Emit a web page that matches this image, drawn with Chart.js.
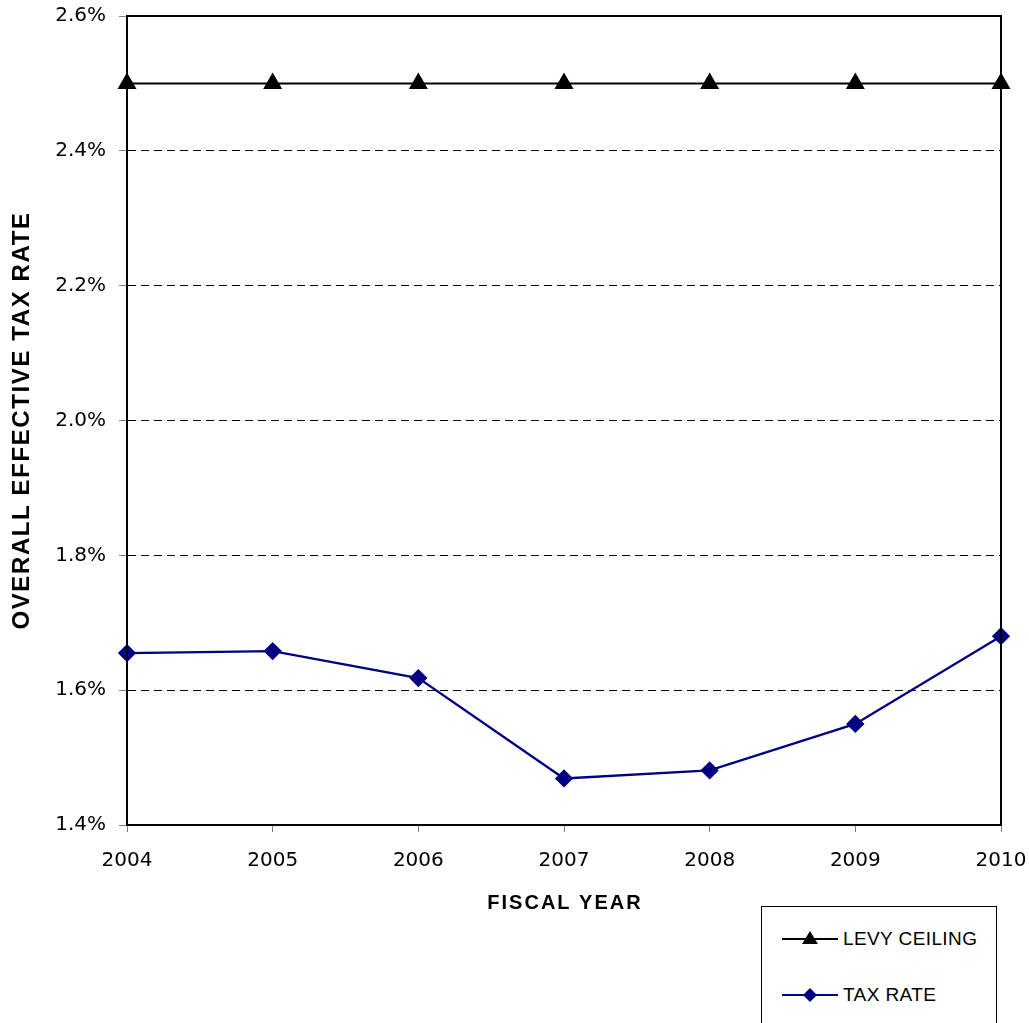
<!DOCTYPE html>
<html>
<head>
<meta charset="utf-8">
<script src="https://cdn.jsdelivr.net/npm/chart.js@4.4.1/dist/chart.umd.min.js"></script>
<style>
  html, body { margin: 0; padding: 0; background: #fff; }
  #wrap { position: relative; width: 1029px; height: 1023px; }
  #grafico { position: absolute; left: 0; top: 0; }
  #leyenda {
    position: absolute; left: 761px; top: 906px; width: 236px; height: 130px;
    border: 1px solid #000; background: #fff; box-sizing: border-box;
    font-family: "Liberation Sans", Arial, sans-serif; font-size: 19px; color: #000;
    letter-spacing: 0.4px;
  }
  .fila { position: absolute; left: 20px; display: flex; align-items: center; }
  .fila svg { margin-right: 5px; }
</style>
</head>
<body>
<div id="wrap">
  <canvas id="grafico" width="1029" height="1023"></canvas>
  <div id="leyenda">
    <div class="fila" style="top: 20px;">
      <svg width="56" height="24"><line x1="0" y1="12" x2="56" y2="12" stroke="#000" stroke-width="2"/><polygon points="28,4 36,17 20,17" fill="#000"/></svg>
      <span>LEVY CEILING</span>
    </div>
    <div class="fila" style="top: 76px;">
      <svg width="56" height="24"><line x1="0" y1="12" x2="56" y2="12" stroke="#000080" stroke-width="2"/><polygon points="28,5 35,12 28,19 21,12" fill="#000080"/></svg>
      <span>TAX RATE</span>
    </div>
  </div>
</div>
<script>
// Años fiscales y tasas (%)
const anios = ['2004', '2005', '2006', '2007', '2008', '2009', '2010'];
const techoImpositivo = [2.5, 2.5, 2.5, 2.5, 2.5, 2.5, 2.5];
const tasaEfectiva = [1.655, 1.658, 1.618, 1.469, 1.481, 1.550, 1.680];
const ticksY = [1.4, 1.6, 1.8, 2.0, 2.2, 2.4, 2.6];

const tituloX = 'FISCAL YEAR';
const tituloY = 'OVERALL EFFECTIVE TAX RATE';

const fuenteTicks = { family: 'DejaVu Sans', size: 20 };

// Marco negro alrededor del área del gráfico y títulos de ejes espaciados
const marcoYTitulos = {
    id: 'marcoYTitulos',
    afterDraw(chart) {
        const { ctx, chartArea: a } = chart;
        ctx.save();
        ctx.strokeStyle = '#000';
        ctx.lineWidth = 2;
        ctx.strokeRect(a.left, a.top, a.right - a.left, a.bottom - a.top);

        ctx.fillStyle = '#000';
        ctx.textAlign = 'center';
        ctx.textBaseline = 'middle';

        // Título del eje X
        ctx.font = 'bold 20px "Liberation Sans"';
        ctx.letterSpacing = '2px';
        ctx.fillText(tituloX, (a.left + a.right) / 2 + 1, 903);

        // Título del eje Y (vertical)
        ctx.font = 'bold 24px "Liberation Sans"';
        ctx.letterSpacing = '1.6px';
        ctx.translate(22, (a.top + a.bottom) / 2);
        ctx.rotate(-Math.PI / 2);
        ctx.fillText(tituloY, 0, 0);
        ctx.restore();
    }
};

new Chart(document.getElementById('grafico'), {
    type: 'line',
    data: {
        labels: anios,
        datasets: [{
            label: 'LEVY CEILING',
            data: techoImpositivo,
            borderColor: '#000',
            backgroundColor: '#000',
            borderWidth: 2,
            pointStyle: 'triangle',
            pointRadius: 9,
            pointHoverRadius: 9,
            tension: 0
        }, {
            label: 'TAX RATE',
            data: tasaEfectiva,
            borderColor: '#000080',
            backgroundColor: '#000080',
            borderWidth: 2.3,
            pointStyle: 'rectRot',
            pointRadius: 7.5,
            pointHoverRadius: 7.5,
            tension: 0
        }]
    },
    options: {
        responsive: false,
        animation: false,
        events: [],
        layout: { padding: { left: 0, right: 28, top: 16, bottom: 0 } },
        plugins: {
            legend: { display: false },
            tooltip: { enabled: false }
        },
        scales: {
            x: {
                offset: false,
                afterFit(scale) {
                    scale.height = 198;
                    scale.paddingLeft = 0;
                    scale.paddingRight = 0;
                },
                grid: {
                    display: true,
                    drawOnChartArea: false,
                    drawTicks: true,
                    tickLength: 7,
                    color: '#808080'
                },
                border: { display: true, color: '#000', width: 2 },
                ticks: { color: '#000', font: fuenteTicks, padding: 17, maxRotation: 0 }
            },
            y: {
                min: 1.4,
                max: 2.6,
                afterBuildTicks(scale) {
                    scale.ticks = ticksY.map(v => ({ value: v }));
                },
                afterFit(scale) {
                    scale.width = 127;
                    scale.paddingTop = 0;
                    scale.paddingBottom = 0;
                },
                grid: {
                    color: '#000',
                    lineWidth: 1,
                    tickLength: 8,
                    tickColor: '#808080'
                },
                border: { display: true, color: '#000', width: 2, dash: [8, 5] },
                ticks: {
                    color: '#000',
                    font: fuenteTicks,
                    padding: 13,
                    callback: v => v.toFixed(1) + '%'
                }
            }
        }
    },
    plugins: [marcoYTitulos]
});
</script>
</body>
</html>
